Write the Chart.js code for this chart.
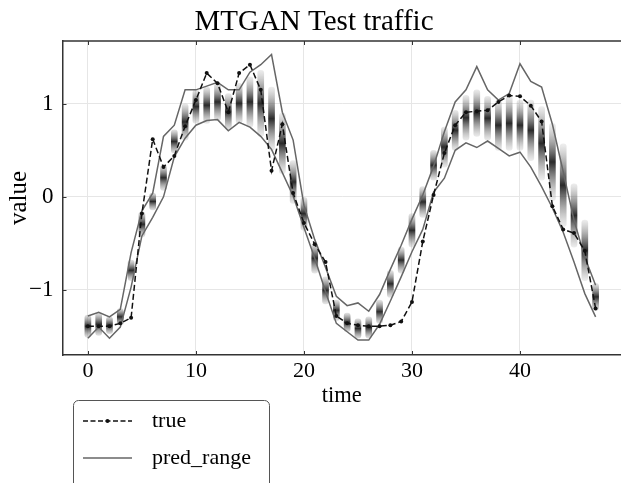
<!DOCTYPE html>
<html>
<head>
<meta charset="utf-8">
<script src="https://cdn.jsdelivr.net/npm/chart.js@4.4.0/dist/chart.umd.min.js"></script>
<style>
  html, body { margin: 0; padding: 0; overflow: hidden; background: #fff; }
</style>
</head>
<body>
<canvas id="graph" width="625" height="483"></canvas>
<script>
// données
const steps = [0,1,2,3,4,5,6,7,8,9,10,11,12,13,14,15,16,17,18,19,20,21,22,23,24,25,26,27,28,29,30,31,32,33,34,35,36,37,38,39,40,41,42,43,44,45,46,47];

const trueValues = [-1.39,-1.39,-1.39,-1.36,-1.30,-0.18,0.62,0.32,0.44,0.76,1.04,1.33,1.22,0.91,1.33,1.42,1.15,0.28,0.78,0.04,
  -0.28,-0.51,-0.70,-1.28,-1.36,-1.38,-1.39,-1.39,-1.38,-1.34,-1.13,-0.48,0.02,0.47,0.77,0.91,0.92,0.93,1.02,1.09,
  1.08,0.98,0.81,-0.10,-0.35,-0.39,-0.58,-1.20];

const upperValues = [-1.28,-1.24,-1.29,-1.21,-0.60,-0.15,0.04,0.65,0.77,1.15,1.15,1.19,1.23,1.15,1.15,1.34,1.42,1.53,0.91,0.61,
  -0.09,-0.46,-0.76,-1.07,-1.17,-1.14,-1.23,-1.05,-0.78,-0.52,-0.24,0.02,0.33,0.70,1.02,1.15,1.40,1.15,1.04,1.11,
  1.43,1.24,1.18,0.78,0.27,-0.25,-0.65,-0.95];

const lowerValues = [-1.52,-1.40,-1.52,-1.40,-0.97,-0.42,-0.22,0.00,0.43,0.63,0.77,0.82,0.83,0.71,0.80,0.75,0.65,0.51,0.26,0.01,
  -0.33,-0.66,-1.02,-1.36,-1.45,-1.54,-1.54,-1.37,-1.12,-0.86,-0.59,-0.35,0.05,0.20,0.50,0.58,0.53,0.60,0.52,0.44,
  0.48,0.32,0.11,-0.12,-0.38,-0.70,-1.04,-1.29];

// étendue des échantillons (nuage de points gris)
const sampleHigh = [-1.27,-1.25,-1.29,-1.20,-0.68,-0.16,0.04,0.34,0.72,1.00,1.15,1.18,1.22,1.11,1.22,1.29,1.36,1.18,0.90,0.39,
  0.00,-0.50,-0.86,-1.11,-1.25,-1.31,-1.29,-1.11,-0.79,-0.54,-0.18,0.11,0.50,0.75,0.93,1.09,1.15,1.08,1.04,1.08,
  1.04,1.04,0.97,0.79,0.57,0.14,-0.25,-0.93];

const sampleLow = [-1.51,-1.49,-1.47,-1.38,-0.90,-0.43,-0.14,0.07,0.47,0.61,0.79,0.79,0.82,0.72,0.79,0.75,0.65,0.50,0.25,-0.07,
  -0.36,-0.82,-1.15,-1.33,-1.45,-1.52,-1.52,-1.36,-1.08,-0.82,-0.54,-0.22,0.18,0.32,0.50,0.61,0.65,0.61,0.50,0.50,
  0.50,0.39,0.18,-0.04,-0.32,-0.54,-0.90,-1.22];

const xTicks = [0, 10, 20, 30, 40];
const yTicks = [-1, 0, 1];

const serif = "'Liberation Serif', 'Times New Roman', serif";

// mise en forme des données pour chart.js
const truePts = steps.map((s, i) => ({x: s, y: trueValues[i]}));
const upperPts = steps.map((s, i) => ({x: s, y: upperValues[i]}));
const lowerPts = steps.map((s, i) => ({x: s, y: lowerValues[i]}));
const samplePts = steps.map((s, i) => ({x: s, y: [sampleLow[i], sampleHigh[i]]}));

// dégradé vertical pour chaque colonne d'échantillons
function sampleColor(c) {
  const chart = c.chart;
  if (c.type !== 'data' || !chart.scales.y) return 'rgba(60,60,60,0.6)';
  const ys = chart.scales.y;
  const top = ys.getPixelForValue(c.raw.y[1]);
  const bot = ys.getPixelForValue(c.raw.y[0]);
  if (!isFinite(top) || !isFinite(bot) || top === bot) return 'rgba(60,60,60,0.6)';
  const g = chart.ctx.createLinearGradient(0, top - 2, 0, bot + 2);
  g.addColorStop(0, 'rgba(170,170,170,0.15)');
  g.addColorStop(0.2, 'rgba(120,120,120,0.5)');
  g.addColorStop(0.5, 'rgba(30,30,30,0.95)');
  g.addColorStop(0.8, 'rgba(120,120,120,0.5)');
  g.addColorStop(1, 'rgba(170,170,170,0.15)');
  return g;
}

// cadre du haut + petits ticks vers l'intérieur
const cadre = {
  id: 'cadre',
  beforeDatasetsDraw(chart) {
    const {ctx, chartArea: a, scales} = chart;
    ctx.save();
    ctx.strokeStyle = '#333';
    ctx.lineWidth = 1.5;
    ctx.beginPath();
    ctx.moveTo(a.left, a.top);
    ctx.lineTo(a.right, a.top);
    ctx.stroke();
    ctx.lineWidth = 1;
    ctx.beginPath();
    xTicks.forEach(v => {
      const px = Math.round(scales.x.getPixelForValue(v)) + 0.5;
      ctx.moveTo(px, a.bottom); ctx.lineTo(px, a.bottom - 4);
      ctx.moveTo(px, a.top); ctx.lineTo(px, a.top + 4);
    });
    yTicks.forEach(v => {
      const py = Math.round(scales.y.getPixelForValue(v)) + 0.5;
      ctx.moveTo(a.left, py); ctx.lineTo(a.left + 4, py);
    });
    ctx.stroke();
    ctx.restore();
  }
};

// légende encadrée sous le graphique
const legende = {
  id: 'legende',
  afterDraw(chart) {
    const ctx = chart.ctx;
    const ds = chart.data.datasets;
    ctx.save();
    ctx.strokeStyle = '#555';
    ctx.lineWidth = 1;
    ctx.beginPath();
    ctx.roundRect(73.5, 400.5, 196, 110, 5);
    ctx.stroke();

    // entrée "true"
    ctx.strokeStyle = '#111';
    ctx.lineWidth = 1.5;
    ctx.setLineDash([5, 2.5]);
    ctx.beginPath();
    ctx.moveTo(83, 421); ctx.lineTo(132, 421);
    ctx.stroke();
    ctx.setLineDash([]);
    ctx.fillStyle = '#111';
    ctx.beginPath();
    ctx.arc(107.5, 421, 2, 0, Math.PI * 2);
    ctx.fill();

    // entrée "pred_range"
    ctx.strokeStyle = '#666';
    ctx.beginPath();
    ctx.moveTo(83, 458); ctx.lineTo(132, 458);
    ctx.stroke();

    ctx.fillStyle = '#000';
    ctx.font = '22px ' + serif;
    ctx.textBaseline = 'middle';
    ctx.fillText(ds[0].label, 152, 421);
    ctx.fillText(ds[1].label, 152, 458);
    ctx.restore();
  }
};

const canvas = document.getElementById('graph');
const graph = new Chart(canvas.getContext('2d'), {
  type: 'line',
  data: {
    datasets: [
      {
        label: 'true',
        data: truePts,
        borderColor: '#111',
        borderWidth: 1.5,
        borderDash: [6, 3],
        pointRadius: 2,
        pointBackgroundColor: '#111',
        pointBorderWidth: 0,
        tension: 0,
        order: 0
      },
      {
        label: 'pred_range',
        data: upperPts,
        borderColor: '#666',
        borderWidth: 1.5,
        pointRadius: 0,
        tension: 0,
        order: 1
      },
      {
        label: 'pred_range_low',
        data: lowerPts,
        borderColor: '#666',
        borderWidth: 1.5,
        pointRadius: 0,
        tension: 0,
        order: 1
      },
      {
        type: 'bar',
        label: 'samples',
        data: samplePts,
        backgroundColor: sampleColor,
        borderWidth: 0,
        borderRadius: 3,
        borderSkipped: false,
        barThickness: 6,
        order: 3
      }
    ]
  },
  options: {
    responsive: false,
    animation: false,
    devicePixelRatio: 1,
    layout: { padding: { left: 4, right: 1, top: 0, bottom: 73 } },
    plugins: {
      legend: { display: false },
      tooltip: { enabled: false },
      title: {
        display: true,
        text: 'MTGAN Test traffic',
        color: '#000',
        font: { family: serif, size: 29, weight: 'normal' },
        padding: { top: 4.7, bottom: 1.5 }
      }
    },
    scales: {
      x: {
        type: 'linear',
        offset: false,
        min: -2.35,
        max: 49.35,
        afterBuildTicks: s => { s.ticks = xTicks.map(v => ({value: v})); },
        afterFit: s => { s.height = 55; },
        ticks: {
          color: '#000',
          padding: 3,
          font: { family: serif, size: 22 },
          callback: v => String(v)
        },
        grid: { color: '#e6e6e6', drawTicks: false, offset: false },
        border: { color: '#333', width: 1.5 },
        title: { display: true, text: 'time', color: '#000', padding: 0, font: { family: serif, size: 22.5 } }
      },
      y: {
        type: 'linear',
        min: -1.70,
        max: 1.675,
        afterBuildTicks: s => { s.ticks = yTicks.map(v => ({value: v})); },
        afterFit: s => { s.width = 58.5; },
        ticks: {
          color: '#000',
          padding: 9,
          font: { family: serif, size: 23 },
          callback: v => (v < 0 ? '\u2212' + Math.abs(v) : String(v))
        },
        grid: { color: '#e6e6e6', drawTicks: false },
        border: { color: '#333', width: 1.5 },
        title: { display: true, text: 'value', color: '#000', padding: 0, font: { family: serif, size: 25 } }
      }
    }
  },
  plugins: [cadre, legende]
});
</script>
</body>
</html>
